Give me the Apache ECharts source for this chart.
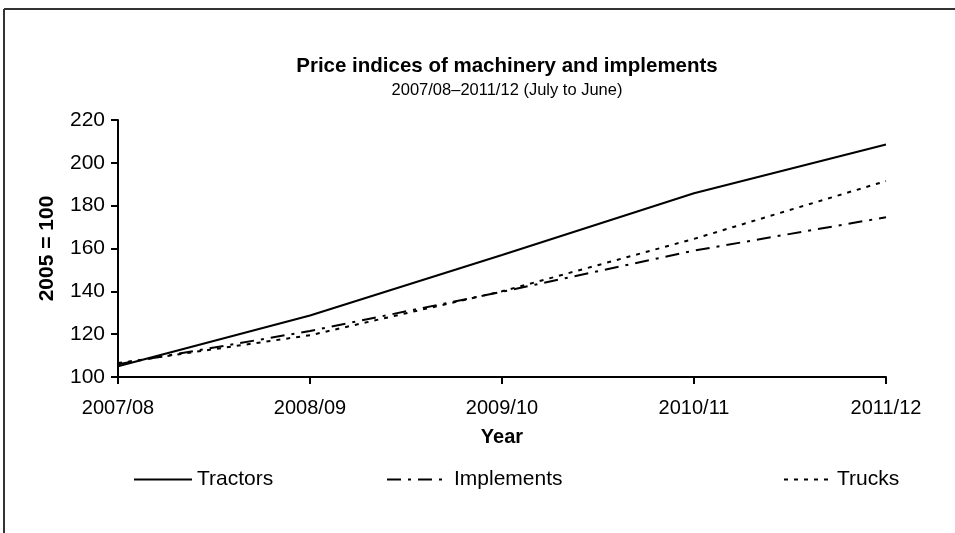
<!DOCTYPE html>
<html>
<head>
<meta charset="utf-8">
<script src="https://cdn.jsdelivr.net/npm/echarts@6/dist/echarts.min.js"></script>
<style>
  html, body { margin: 0; padding: 0; background: #fff; }
  #chart { width: 955px; height: 533px; }
</style>
</head>
<body>
<div id="chart"></div>
<script>
// 年份 (July to June)
const years = ['2007/08', '2008/09', '2009/10', '2010/11', '2011/12'];
// 价格指数 2005 = 100
const tractors = [105, 128.7, 157, 185.8, 208.6];
const implementsIdx = [106, 121.5, 139.8, 159, 174.6];
const trucks = [106.5, 119.5, 140, 164.5, 191.5];
const yTicks = { min: 100, max: 220, interval: 20 };

const FONT = "'Liberation Sans', Arial, sans-serif";

const chart = echarts.init(document.getElementById('chart'));

const lineSeries = (name, data, dash) => ({
  name: name,
  type: 'line',
  data: data,
  symbol: 'none',
  silent: true,
  lineStyle: { color: '#000', width: 2, type: dash },
  itemStyle: { color: '#000' }
});

// 每个图例单独放，间距不一样
const legendAt = (name, left, w) => ({
  data: [name],
  left: left,
  top: 469,
  padding: 0,
  itemWidth: w,
  itemHeight: 14,
  // 隐藏图例里的圆点，只留线
  itemStyle: { color: 'rgba(0,0,0,0)', borderWidth: 0, opacity: 0 },
  textStyle: { fontFamily: FONT, fontSize: 21, color: '#000' }
});

const option = {
  animation: false,
  backgroundColor: '#fff',
  // 外框：只有上边和左边
  graphic: [
    { type: 'line', shape: { x1: 4, y1: 9, x2: 955, y2: 9 }, style: { stroke: '#333', lineWidth: 2 } },
    { type: 'line', shape: { x1: 4, y1: 9, x2: 4, y2: 533 }, style: { stroke: '#333', lineWidth: 2 } }
  ],
  title: [
    {
      text: 'Price indices of machinery and implements',
      left: 502, top: 51, textAlign: 'center',
      textStyle: { fontFamily: FONT, fontSize: 20.5, fontWeight: 'bold', color: '#000' }
    },
    {
      text: '2007/08\u20132011/12 (July to June)',
      left: 502, top: 77, textAlign: 'center',
      textStyle: { fontFamily: FONT, fontSize: 16.5, fontWeight: 'normal', color: '#000' }
    }
  ],
  legend: [
    legendAt('Tractors', 133, 58),
    legendAt('Implements', 386, 62),
    legendAt('Trucks', 783, 48)
  ],
  grid: { left: 118, right: 69, top: 120, bottom: 156, containLabel: false },
  xAxis: {
    type: 'category',
    data: years,
    boundaryGap: false,
    name: 'Year',
    nameLocation: 'middle',
    nameGap: 50,
    nameTextStyle: { fontFamily: FONT, fontSize: 20, fontWeight: 'bold', color: '#000' },
    axisLine: { lineStyle: { color: '#000', width: 2 } },
    axisTick: { show: true, inside: false, length: 7, alignWithLabel: true, lineStyle: { color: '#000', width: 2 } },
    axisLabel: { margin: 21, fontFamily: FONT, fontSize: 20, color: '#000', interval: 0 },
    splitLine: { show: false }
  },
  yAxis: {
    type: 'value',
    min: yTicks.min,
    max: yTicks.max,
    interval: yTicks.interval,
    name: '2005 = 100',
    nameLocation: 'middle',
    nameGap: 60,
    nameTextStyle: { fontFamily: FONT, fontSize: 21, fontWeight: 'bold', color: '#000' },
    axisLine: { show: true, lineStyle: { color: '#000', width: 2 } },
    axisTick: { show: true, inside: false, length: 7, lineStyle: { color: '#000', width: 2 } },
    axisLabel: { margin: 13, fontFamily: FONT, fontSize: 21, color: '#000' },
    splitLine: { show: false }
  },
  series: [
    lineSeries('Tractors', tractors, 'solid'),
    lineSeries('Implements', implementsIdx, [14, 7, 3, 7]),
    lineSeries('Trucks', trucks, [4, 6])
  ]
};

chart.setOption(option);
</script>
</body>
</html>
